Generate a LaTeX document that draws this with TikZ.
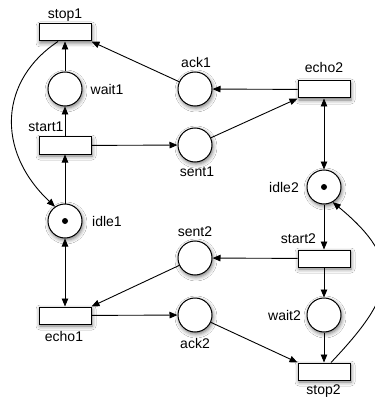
\documentclass[tikz,border=0pt]{standalone}
\usepackage{fontspec}
\setmainfont{Liberation Sans}
\usetikzlibrary{arrows.meta,shadows.blur}
\begin{document}
\begin{tikzpicture}[x=1pt,y=-1pt,
  shd/.style={blur shadow={shadow xshift=1pt,shadow yshift=-2pt,shadow blur radius=4pt,shadow opacity=55}},
  place/.style={circle,draw,line width=1pt,fill=white,minimum size=34pt,inner sep=0pt,shd},
  trans/.style={rectangle,draw,line width=1pt,fill=white,minimum width=52pt,minimum height=17pt,inner sep=0pt,shd},
  token/.style={circle,fill=black,inner sep=0pt,minimum size=6pt},
  lbl/.style={font=\fontsize{14}{16}\selectfont,inner sep=0pt},
  arc/.style={-{Triangle[length=8pt,width=6.5pt]},line width=0.9pt},
  arcb/.style={{Triangle[length=8pt,width=6.5pt]}-{Triangle[length=8pt,width=6.5pt]},line width=0.9pt}]
\useasboundingbox[fill=white] (0,0) rectangle (374,398);

% places
\node[place] (wait1) at (65,89) {};
\node[place] (ack1) at (195,89) {};
\node[place] (sent1) at (195,145) {};
\node[place] (idle1) at (65,221) {};
\node[token] (tok1) at (idle1) {};
\node[place] (idle2) at (324,187) {};
\node[token] (tok2) at (idle2) {};
\node[place] (sent2) at (195,258) {};
\node[place] (ack2) at (195,315) {};
\node[place] (wait2) at (324,315) {};

% transitions
\node[trans] (stop1) at (65,32.5) {};
\node[trans] (start1) at (65,145.5) {};
\node[trans] (echo2) at (324,89.5) {};
\node[trans] (echo1) at (65,315.5) {};
\node[trans] (start2) at (324,258.5) {};
\node[trans] (stop2) at (324,371.5) {};

% labels
\node[lbl] (lstop1) at (65,15) {stop1};
\node[lbl] (lwait1) at (107,89) {wait1};
\node[lbl] (lstart1) at (46,127) {start1};
\node[lbl] (lack1) at (196,62) {ack1};
\node[lbl] (lsent1) at (197,172) {sent1};
\node[lbl] (lecho2) at (324,67) {echo2};
\node[lbl] (lidle2) at (284,187) {idle2};
\node[lbl] (lidle1) at (107,221) {idle1};
\node[lbl] (lsent2) at (195,232) {sent2};
\node[lbl] (lstart2) at (298.5,239) {start2};
\node[lbl] (lecho1) at (64,336) {echo1};
\node[lbl] (lack2) at (195,343) {ack2};
\node[lbl] (lwait2) at (284.5,315) {wait2};
\node[lbl] (lstop2) at (323.5,391) {stop2};

% arcs
\draw[arc] (wait1) -- (stop1);
\draw[arc] (start1) -- (wait1);
\draw[arc] (idle1) -- (start1);
\draw[arc] (start1) -- (sent1);
\draw[arc] (ack1) -- (stop1.south east);
\draw[arc] (echo2) -- (ack1);
\draw[arc] (sent1) -- (echo2.south west);
\draw[arcb] (echo2) -- (idle2);
\draw[arc] ([xshift=-7pt]stop1.south) .. controls (0,80) and (-5,150) .. (idle1.125);
\draw[arcb] (idle1) -- (echo1);
\draw[arc] (sent2) -- (echo1.north east);
\draw[arc] (echo1) -- (ack2);
\draw[arc] (start2) -- (sent2);
\draw[arc] (idle2) -- (start2);
\draw[arc] (start2) -- (wait2);
\draw[arc] (wait2) -- (stop2);
\draw[arc] (ack2) -- (stop2.north west);
\draw[arc] ([xshift=7pt]stop2.north) .. controls (395,295) and (405,262) .. (idle2.-60);
\end{tikzpicture}
\end{document}
